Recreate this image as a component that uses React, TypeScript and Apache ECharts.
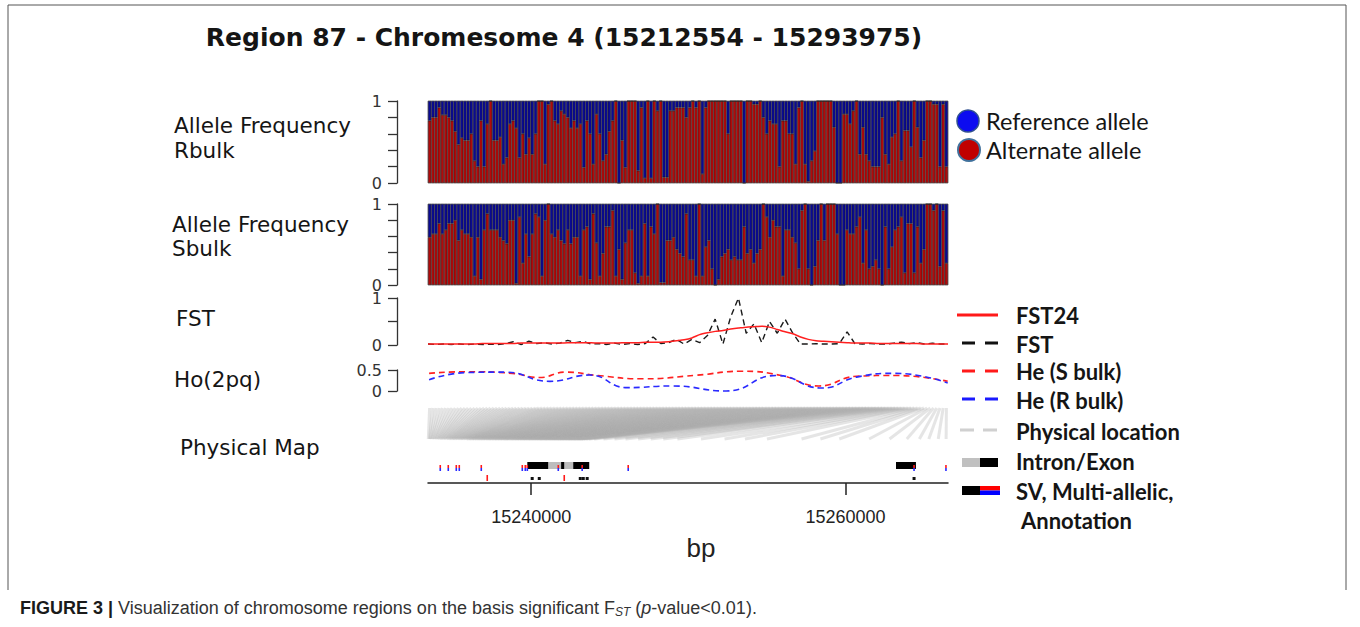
import React, { useEffect, useRef } from 'react';
import * as echarts from 'echarts';

// ---------- DATA ----------
// Alternate-allele frequency per SNP (reference = 1 - alt)
const rbulkAlt = [
  0.76, 0.80, 0.80, 0.92, 0.83, 0.83, 0.80, 0.76, 0.63, 0.47,
  0.55, 0.52, 0.52, 0.60, 0.27, 0.20, 0.76, 0.20, 0.72, 1.0,
  0.52, 0.52, 0.56, 0.23, 0.31, 0.72, 0.76, 0.67, 0.31, 0.60,
  0.35, 0.55, 0.35, 0.60, 1.0, 1.0, 0.23, 0.96, 1.0, 0.76,
  0.72, 0.88, 0.84, 0.80, 0.67, 0.76, 0.67, 0.72, 0.19, 0.76,
  0.60, 0.23, 0.84, 0.60, 0.27, 0.35, 0.63, 0.76, 1.0, 0.0,
  0.52, 0.19, 1.0, 1.0, 1.0, 0.15, 0.92, 0.06, 1.0, 0.06,
  1.0, 0.88, 1.0, 0.07, 0.07, 0.88, 0.88, 0.92, 0.92, 0.92,
  0.80, 0.92,
  1.0, 0.92, 1.0, 0.11, 0.92, 1.0, 1.0, 1.0, 1.0, 1.0,
  1.0, 0.60, 1.0, 1.0, 1.0, 1.0, 0.0, 1.0, 1.0, 0.96,
  0.96, 1.0, 0.80, 0.60, 0.76, 0.72, 0.72, 0.20, 0.76, 0.76,
  0.60, 0.60, 0.23, 0.92, 1.0, 0.23, 0.02, 0.27, 0.39, 1.0,
  1.0, 1.0, 1.0, 1.0, 0.68, 0.0, 0.0, 0.84, 0.84, 0.72,
  0.88, 1.0, 0.35, 0.68, 0.35, 0.27, 0.20, 0.20, 0.20, 0.80,
  0.35, 0.23, 0.56, 0.60, 1.0, 0.27, 0.64, 0.64, 0.44, 1.0,
  0.68, 0.31, 0.52, 1.0, 1.0, 0.96, 0.96, 0.20, 0.96, 0.20,
];
const sbulkAlt = [
  0.59, 0.63, 0.63, 0.76, 0.63, 0.68, 0.76, 0.76, 0.80, 0.55,
  0.68, 0.63, 0.63, 0.59, 0.11, 0.59, 0.07, 0.68, 0.88, 0.68,
  0.68, 0.68, 0.59, 0.55, 0.51, 0.80, 0.80, 0.02, 0.84, 0.27,
  0.63, 0.35, 0.63, 0.88, 0.84, 0.11, 0.80, 1.0, 0.63, 0.59,
  0.68, 0.55, 0.51, 0.68, 0.51, 0.59, 0.59, 0.11, 0.68, 0.72,
  0.07, 0.88, 0.52, 0.11, 0.39, 0.72, 0.72, 0.92, 0.11, 0.44,
  0.07, 0.52, 0.68, 0.68, 0.15, 0.02, 0.11, 0.76, 0.11, 0.72,
  0.63, 1.0, 0.03, 0.03, 0.55, 0.55, 0.59, 0.44, 0.39, 0.35,
  0.88, 0.31,
  0.31, 0.11, 1.0, 0.11, 0.47, 0.55, 0.20, 0.0, 0.07, 0.35,
  0.39, 0.44, 0.31, 0.35, 0.31, 0.31, 0.72, 0.39, 0.44, 0.27,
  0.39, 0.44, 1.0, 0.84, 0.59, 0.80, 0.72, 0.72, 0.11, 0.68,
  0.68, 0.59, 0.52, 0.20, 0.92, 1.0, 0.20, 0.0, 0.23, 0.55,
  1.0, 0.55, 1.0, 1.0, 1.0, 0.63, 0.0, 0.0, 0.68, 0.63,
  0.63, 0.72, 0.84, 0.27, 0.68, 0.20, 0.23, 0.31, 0.20, 0.0,
  0.72, 0.20, 0.47, 0.68, 0.72, 0.84, 0.15, 0.76, 0.76, 0.15,
  0.72, 0.27, 0.44, 1.0, 1.0, 0.92, 1.0, 0.23, 0.92, 0.27,
];

const fstValues = [
  0.02, 0.01, 0.02, 0.01, 0.02, 0.01, 0.02, 0.01, 0.02, 0.01,
  0.03, 0.07, 0.01, 0.08, 0.03, 0.05, 0.02, 0.04, 0.10, 0.05,
  0.08, 0.02, 0.03, 0.01, 0.04, 0.01, 0.03, 0.01, 0.03, 0.17,
  0.03, 0.05, 0.12, 0.02, 0.12, 0.05, 0.20, 0.55, 0.02, 0.60,
  1.00, 0.25, 0.45, 0.05, 0.50, 0.25, 0.55, 0.25, 0.02, 0.02,
  0.03, 0.02, 0.02, 0.03, 0.28, 0.03, 0.02, 0.03, 0.02, 0.02,
  0.04, 0.06, 0.03, 0.05, 0.02, 0.04, 0.02, 0.02,
];
const fst24Values = [
  0.02, 0.02, 0.02, 0.02, 0.02, 0.02, 0.02, 0.03, 0.03, 0.03,
  0.03, 0.03, 0.04, 0.04, 0.04, 0.04, 0.04, 0.04, 0.05, 0.05,
  0.05, 0.05, 0.04, 0.04, 0.04, 0.05, 0.05, 0.05, 0.06, 0.06,
  0.06, 0.07, 0.09, 0.11, 0.15, 0.22, 0.26, 0.29, 0.31, 0.34,
  0.36, 0.38, 0.39, 0.40, 0.38, 0.33, 0.28, 0.24, 0.17, 0.12,
  0.09, 0.08, 0.07, 0.06, 0.05, 0.04, 0.04, 0.04, 0.03, 0.03,
  0.03, 0.03, 0.03, 0.03, 0.02, 0.02, 0.02, 0.02,
];

const heSBp = [15233500, 15235900, 15238800, 15240500, 15242200, 15244200, 15247100, 15250500, 15253400, 15255900, 15258300, 15260700, 15263200, 15266500];
const heSValues = [0.42, 0.46, 0.42, 0.32, 0.45, 0.37, 0.29, 0.375, 0.47, 0.37, 0.12, 0.35, 0.37, 0.23];
const heRBp = [15233500, 15235900, 15238300, 15241200, 15243700, 15246100, 15249000, 15252400, 15255600, 15258500, 15260700, 15263200, 15266500];
const heRValues = [0.27, 0.44, 0.45, 0.23, 0.38, 0.08, 0.12, 0.0, 0.37, 0.07, 0.33, 0.42, 0.19];

// physical positions of SNPs, kb past 15,233,000 bp
const physKb = [
  0.45, 0.52, 0.58, 0.66, 0.71, 0.80, 0.86, 0.93, 1.01, 1.07,
  1.15, 1.22, 1.28, 1.37, 1.43, 1.50, 1.58, 1.64, 1.72, 1.79,
  1.85, 1.94, 2.00, 2.07, 2.15, 2.21, 2.30, 2.36, 2.44, 2.51,
  2.57, 2.66, 2.72, 2.80, 2.87, 2.93, 3.02, 3.08, 3.16, 3.23,
  3.29, 3.38, 3.44, 3.52, 3.59, 3.65, 3.74, 3.80, 3.88, 3.95,
  4.01, 4.10, 4.16, 4.24, 4.31, 4.37, 4.46, 4.52, 4.60, 4.67,
  4.73, 4.82, 4.88, 4.96, 5.03, 5.09, 5.18, 5.24, 5.32, 5.39,
  5.45, 5.54, 5.60, 5.68, 5.75, 5.81, 5.90, 5.96, 6.04, 6.11,
  6.17, 6.26, 6.32, 6.40, 6.47, 6.53, 6.62, 6.68, 6.76, 6.83,
  6.89, 6.98, 7.04, 7.12, 7.19, 7.25, 7.34, 7.40, 7.48, 7.55,
  7.61, 7.70, 7.76, 7.84, 7.91, 7.97, 8.06, 8.12, 8.20, 8.27,
  8.33, 8.42, 8.48, 8.56, 8.63, 8.69, 8.78, 8.84, 8.92, 8.99,
  9.05, 9.14, 9.20, 9.28, 9.35, 9.41, 9.50, 9.56, 9.64, 9.71,
  9.77, 9.86, 9.92, 10.00, 10.07, 10.13, 10.22, 10.35, 10.50, 10.68,
  11.0, 11.6, 12.3, 13.0, 13.8, 14.6, 15.4, 16.3,
  17.8, 19.3, 20.6, 22.0,
  24.2, 25.4, 26.6, 28.5, 29.8, 30.9, 31.7, 32.3, 32.9, 33.4,
];

const exons = [[15239750, 15241080], [15241900, 15242100], [15242670, 15243690], [15263210, 15264480]];
const introns = [[15241080, 15241900], [15242100, 15242670]];
const annotationMarks = [15234210, 15234720, 15235230, 15235420, 15236820, 15239430, 15239620, 15239750, 15241720, 15243240, 15246170, 15264360, 15266390];
const multiAllelicMarks = [15237200, 15242100];
const svMarks = [15240060, 15240510, 15243120, 15243310, 15243560, 15264360];

const bpMin = 15233430;
const bpMax = 15266520;
const bpTicks = [15240000, 15260000];

const RED = '#b20a0a';
const BLUE = '#0a0a94';

function buildOption() {
  const N = rbulkAlt.length;
  const idx = rbulkAlt.map((_, i) => String(i + 1));
  const fstIdx = fstValues.map((_, i) => String(i + 1));

  const yBase = (grid: number, max: number, interval: number, fmt: (v: number) => string) => ({
    gridIndex: grid,
    type: 'value',
    min: 0,
    max,
    interval,
    offset: 31,
    axisLine: { show: true, lineStyle: { color: '#333', width: 1.3 } },
    axisTick: { show: true, length: 9, lineStyle: { color: '#333', width: 1.3 } },
    axisLabel: { margin: 15, color: '#333', fontSize: 16, lineHeight: 13, fontFamily: 'DejaVu Sans', formatter: fmt },
    splitLine: { show: false },
  });
  const fmt01 = (v: number) => (Math.abs(v) < 1e-9 ? '0' : Math.abs(v - 1) < 1e-9 ? '1' : '');
  const fmtHe = (v: number) => (Math.abs(v) < 1e-9 ? '0' : Math.abs(v - 0.5) < 1e-9 ? '0.5' : '');

  const gridStyle = { show: true, borderColor: '#a8a8a8', borderWidth: 1, backgroundColor: 'transparent' };

  const barItem = (color: string) => ({ color, borderColor: '#151515', borderWidth: 0.5 });

  const labelFont = '21.5px "DejaVu Sans"';
  const legendFont = 'bold 22px Lato';

  const textEl = (text: string, x: number, y: number, font: string, extra: any = {}) => ({
    type: 'text',
    x,
    y,
    style: { text, font, fill: '#151515', textVerticalAlign: 'middle', verticalAlign: 'middle', ...extra },
  });

  const graphics: any[] = [
    { type: 'polyline', shape: { points: [[8, 590], [8, 5], [1346, 5], [1346, 590]] }, style: { stroke: '#555', lineWidth: 1, fill: 'none' } },
    textEl('Region 87 - Chromesome 4 (15212554 - 15293975)', 564, 37, 'bold 25px "DejaVu Sans"', { textAlign: 'center', align: 'center' }),
    textEl('Allele Frequency', 174, 125, labelFont),
    textEl('Rbulk', 174, 150, labelFont),
    textEl('Allele Frequency', 172, 224, labelFont),
    textEl('Sbulk', 172, 248, labelFont),
    textEl('FST', 176, 318, labelFont),
    textEl('Ho(2pq)', 174, 379, labelFont),
    textEl('Physical Map', 180, 447, labelFont),
    // top legend
    { type: 'circle', shape: { cx: 968, cy: 121, r: 11 }, style: { fill: '#0c0cf0', stroke: '#2f4f8f', lineWidth: 1.5 } },
    { type: 'circle', shape: { cx: 969, cy: 150, r: 11 }, style: { fill: '#c00000', stroke: '#41719c', lineWidth: 2 } },
    textEl('Reference allele', 986, 121, '23.5px Lato'),
    textEl('Alternate allele', 986, 150, '23.5px Lato'),
    // bottom legend samples
    { type: 'line', shape: { x1: 957, y1: 315, x2: 998, y2: 315 }, style: { stroke: '#ff1a1a', lineWidth: 3 } },
    { type: 'line', shape: { x1: 962, y1: 343, x2: 998, y2: 343 }, style: { stroke: '#111', lineWidth: 3, lineDash: [13, 10] } },
    { type: 'line', shape: { x1: 962, y1: 371, x2: 998, y2: 371 }, style: { stroke: '#ff1a1a', lineWidth: 3, lineDash: [13, 10] } },
    { type: 'line', shape: { x1: 962, y1: 399, x2: 998, y2: 399 }, style: { stroke: '#1a1aff', lineWidth: 3, lineDash: [13, 10] } },
    { type: 'line', shape: { x1: 960, y1: 430, x2: 997, y2: 430 }, style: { stroke: '#d0d0d0', lineWidth: 3, lineDash: [14, 9] } },
    { type: 'rect', shape: { x: 962, y: 458, width: 18, height: 9 }, style: { fill: '#c0c0c0' } },
    { type: 'rect', shape: { x: 980, y: 458, width: 18, height: 9 }, style: { fill: '#000' } },
    { type: 'rect', shape: { x: 962, y: 486, width: 18, height: 9 }, style: { fill: '#000' } },
    { type: 'rect', shape: { x: 980, y: 486, width: 20, height: 4.5 }, style: { fill: '#ff0000' } },
    { type: 'rect', shape: { x: 980, y: 490.5, width: 20, height: 4.5 }, style: { fill: '#0000ff' } },
    textEl('FST24', 1016, 315, legendFont),
    textEl('FST', 1016, 344, legendFont),
    textEl('He (S bulk)', 1016, 371, legendFont),
    textEl('He (R bulk)', 1016, 400, legendFont),
    textEl('Physical location', 1016, 431, legendFont),
    textEl('Intron/Exon', 1016, 461, legendFont),
    textEl('SV, Multi-allelic,', 1016, 491, legendFont),
    textEl('Annotation', 1021, 520, legendFont),
    textEl('bp', 701, 548, '26px "Liberation Sans"', { textAlign: 'center', align: 'center', fill: '#222' }),
    // caption
    {
      type: 'text',
      x: 20,
      y: 608,
      style: {
        text: '{b|FIGURE 3 |}{n| Visualization of chromosome regions on the basis significant F}{s|ST}{n| (}{i|p}{n|-value<0.01).}',
        verticalAlign: 'middle',
        rich: {
          b: { fontFamily: '"Liberation Sans"', fontWeight: 'bold', fontSize: 18, fill: '#1a1a1a', color: '#1a1a1a' },
          n: { fontFamily: '"Liberation Sans"', fontSize: 18, fill: '#333', color: '#333' },
          i: { fontFamily: '"Liberation Sans"', fontStyle: 'italic', fontSize: 18, fill: '#333', color: '#333' },
          s: { fontFamily: '"Liberation Sans"', fontStyle: 'italic', fontSize: 12, fill: '#333', color: '#333', verticalAlign: 'bottom', padding: [7, 0, 0, 0] },
        },
      },
    },
  ];

  return {
    animation: false,
    backgroundColor: '#fff',
    grid: [
      { left: 428, top: 101, width: 520, height: 82, ...gridStyle },
      { left: 428, top: 204, width: 520, height: 81, ...gridStyle },
      { left: 428, top: 298, width: 520, height: 47 },
      { left: 428, top: 370, width: 520, height: 21 },
      { left: 428, top: 405, width: 520, height: 78 },
    ],
    xAxis: [
      { gridIndex: 0, type: 'category', data: idx, show: false },
      { gridIndex: 1, type: 'category', data: idx, show: false },
      { gridIndex: 2, type: 'category', data: fstIdx, boundaryGap: false, show: false },
      { gridIndex: 3, type: 'value', min: bpMin, max: bpMax, show: false },
      {
        gridIndex: 4,
        type: 'value',
        min: bpMin,
        max: bpMax,
        axisLine: { show: true, lineStyle: { color: '#222', width: 1.5 } },
        axisTick: { show: true, length: 12, customValues: bpTicks, lineStyle: { color: '#222', width: 1.5 } },
        axisLabel: { customValues: bpTicks, margin: 25, fontSize: 18, fontFamily: '"Liberation Sans"', color: '#222', formatter: (v: number) => String(v) },
        splitLine: { show: false },
      },
    ],
    yAxis: [
      yBase(0, 1, 0.2, fmt01),
      yBase(1, 1, 0.2, fmt01),
      yBase(2, 1, 0.5, fmt01),
      yBase(3, 0.5, 0.5, fmtHe),
      { gridIndex: 4, type: 'value', min: 0, max: 1, show: false },
    ],
    series: [
      { name: 'Alternate allele (Rbulk)', type: 'bar', xAxisIndex: 0, yAxisIndex: 0, stack: 'r', barCategoryGap: '0%', data: rbulkAlt, itemStyle: barItem(RED) },
      { name: 'Reference allele (Rbulk)', type: 'bar', xAxisIndex: 0, yAxisIndex: 0, stack: 'r', barCategoryGap: '0%', data: rbulkAlt.map((v) => +(1 - v).toFixed(3)), itemStyle: barItem(BLUE) },
      { name: 'Alternate allele (Sbulk)', type: 'bar', xAxisIndex: 1, yAxisIndex: 1, stack: 's', barCategoryGap: '0%', data: sbulkAlt, itemStyle: barItem(RED) },
      { name: 'Reference allele (Sbulk)', type: 'bar', xAxisIndex: 1, yAxisIndex: 1, stack: 's', barCategoryGap: '0%', data: sbulkAlt.map((v) => +(1 - v).toFixed(3)), itemStyle: barItem(BLUE) },
      { name: 'FST', type: 'line', xAxisIndex: 2, yAxisIndex: 2, data: fstValues, symbol: 'none', lineStyle: { color: '#1a1a1a', width: 1.4, type: [6, 4] } },
      { name: 'FST24', type: 'line', xAxisIndex: 2, yAxisIndex: 2, data: fst24Values, symbol: 'none', smooth: 0.2, lineStyle: { color: '#ff1f1f', width: 1.5 } },
      { name: 'He (S bulk)', type: 'line', xAxisIndex: 3, yAxisIndex: 3, data: heSBp.map((b, i) => [b, heSValues[i]]), symbol: 'none', smooth: 0.5, clip: false, lineStyle: { color: '#ff2020', width: 1.6, type: [6, 4] } },
      { name: 'He (R bulk)', type: 'line', xAxisIndex: 3, yAxisIndex: 3, data: heRBp.map((b, i) => [b, heRValues[i]]), symbol: 'none', smooth: 0.5, clip: false, lineStyle: { color: '#2a2aff', width: 1.6, type: [6, 4] } },
      {
        name: 'Physical location',
        type: 'custom',
        xAxisIndex: 4,
        yAxisIndex: 4,
        data: physKb.map((kb, i) => [15233000 + kb * 1000, i]),
        renderItem: (params: any, api: any) => {
          const cs = params.coordSys;
          const i = api.value(1);
          const xTop = cs.x + ((i + 0.5) / N) * cs.width;
          const xBot = api.coord([api.value(0), 0])[0];
          return {
            type: 'line',
            shape: { x1: xTop, y1: cs.y + 3, x2: xBot, y2: cs.y + 34 },
            style: { stroke: 'rgba(175,175,175,0.32)', lineWidth: 3 },
          };
        },
      },
      {
        name: 'Intron/Exon',
        type: 'custom',
        xAxisIndex: 4,
        yAxisIndex: 4,
        data: [...introns.map((d) => [d[0], d[1], 0]), ...exons.map((d) => [d[0], d[1], 1])],
        encode: { x: [0, 1] },
        renderItem: (params: any, api: any) => {
          const cs = params.coordSys;
          const x0 = api.coord([api.value(0), 0])[0];
          const x1 = api.coord([api.value(1), 0])[0];
          return {
            type: 'rect',
            shape: { x: x0, y: cs.y + 57, width: x1 - x0, height: 7 },
            style: { fill: api.value(2) === 1 ? '#000' : '#bdbdbd' },
          };
        },
      },
      {
        name: 'SV, Multi-allelic, Annotation',
        type: 'custom',
        xAxisIndex: 4,
        yAxisIndex: 4,
        data: [
          ...annotationMarks.map((p) => [p, 0]),
          ...multiAllelicMarks.map((p) => [p, 1]),
          ...svMarks.map((p) => [p, 2]),
        ],
        renderItem: (params: any, api: any) => {
          const cs = params.coordSys;
          const x = api.coord([api.value(0), 0])[0];
          const k = api.value(1);
          if (k === 0) {
            return {
              type: 'group',
              children: [
                { type: 'rect', shape: { x: x - 0.8, y: cs.y + 60, width: 1.6, height: 3 }, style: { fill: '#ff1a1a' } },
                { type: 'rect', shape: { x: x - 0.8, y: cs.y + 63, width: 1.6, height: 3 }, style: { fill: '#2a2aff' } },
              ],
            };
          }
          if (k === 1) {
            return { type: 'rect', shape: { x: x - 0.8, y: cs.y + 70, width: 1.6, height: 6 }, style: { fill: '#ff1a1a' } };
          }
          return { type: 'rect', shape: { x: x - 1.5, y: cs.y + 72, width: 3, height: 3 }, style: { fill: '#111' } };
        },
      },
    ],
    graphic: graphics,
  };
}

export default function App() {
  const ref = useRef<HTMLDivElement>(null);
  useEffect(() => {
    const chart = echarts.init(ref.current!, null, { renderer: 'svg' });
    chart.setOption(buildOption() as any);
    return () => chart.dispose();
  }, []);
  return (
    <div
      ref={ref}
      style={{ position: 'fixed', left: 0, top: 0, width: 1360, height: 627, background: '#fff' }}
    />
  );
}
